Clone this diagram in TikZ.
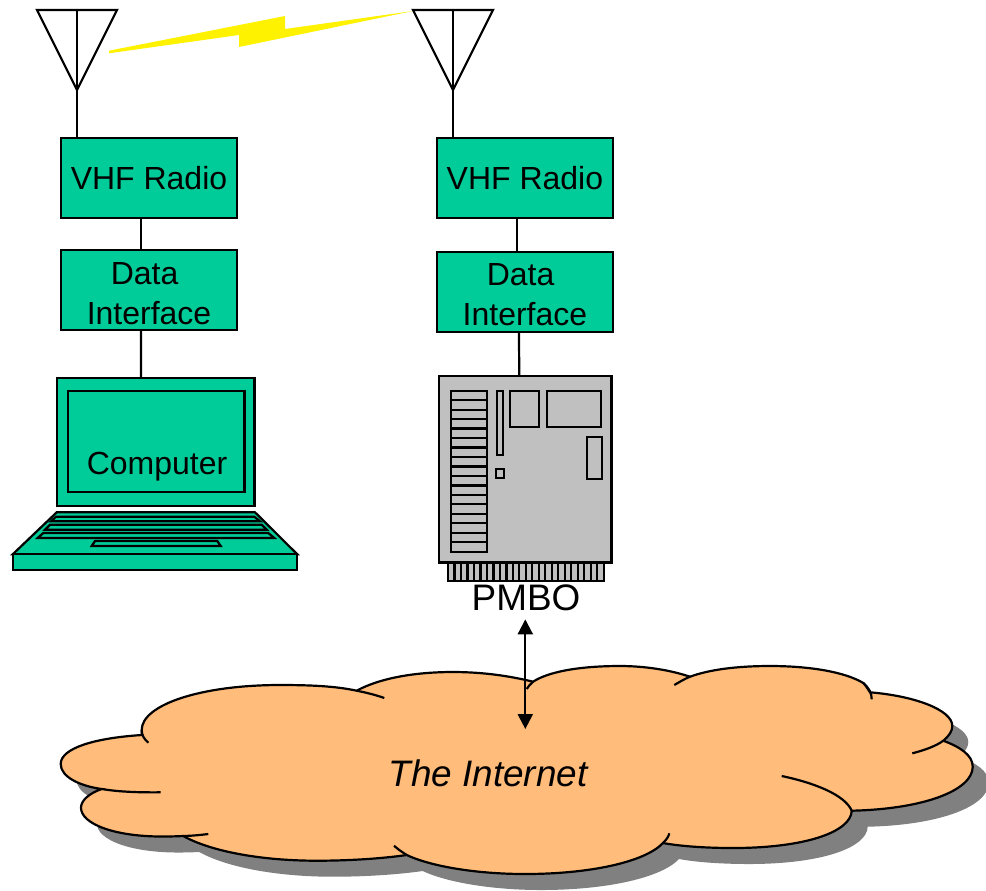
\documentclass[tikz,border=0pt]{standalone}
\usepackage{fontspec}
\setmainfont{Liberation Sans}
\usetikzlibrary{positioning,arrows.meta}
\definecolor{radiogreen}{HTML}{00CC99}
\definecolor{cloudorange}{HTML}{FFBC7A}
\definecolor{boardgrey}{HTML}{C0C0C0}
\definecolor{shadowgrey}{HTML}{808080}
\newcommand{\cloudoutline}{(141.7,735) .. controls (95,738) and (60.7,748) .. (60.7,764)
	.. controls (60.7,777) and (80,786) .. (101.7,789)
	.. controls (90,793) and (81,800) .. (81,807.7)
	.. controls (81,824) and (115,837) .. (165,836.5)
	.. controls (172,836.5) and (178,836.2) .. (183.3,836)
	.. controls (210,851) and (260,860.7) .. (316.7,860.7)
	.. controls (350,860.7) and (382,858.5) .. (406.7,855)
	.. controls (430,866) and (475,874) .. (525,874)
	.. controls (590,874) and (645,862) .. (663,843)
	.. controls (682,846.5) and (708,848) .. (733,848)
	.. controls (805,848) and (851,832) .. (851.7,810.7)
	.. controls (925,809) and (972.7,790) .. (972.7,766.7)
	.. controls (972.7,755) and (960,747) .. (943.3,740.7)
	.. controls (949,736) and (952.3,731) .. (952.3,726)
	.. controls (952.3,710) and (915,696) .. (870,692.3)
	.. controls (868,689) and (866,686) .. (863.3,683)
	.. controls (845,672) and (810,666) .. (770,666)
	.. controls (735,666) and (708,670) .. (690,676.7)
	.. controls (670,670) and (645,666) .. (620,666)
	.. controls (578,666) and (548,672) .. (533,681.7)
	.. controls (510,676) and (483,672) .. (453,672)
	.. controls (412,672) and (378,679) .. (356.7,690.7)
	.. controls (335,686) and (310,685) .. (280,685)
	.. controls (200,685) and (141.7,705) .. (141.7,730)
	-- cycle}

\tikzset{
	boxline/.style={line width=1.25pt,draw=black},
	radiobox/.style={boxline,fill=radiogreen,minimum width=3.52cm,minimum height=1.6cm,inner sep=0pt,align=center,font=\fontsize{18.2}{22.7}\selectfont},
	boardpart/.style={boxline,fill=boardgrey},
	laptoppart/.style={boxline,fill=radiogreen},
	link/.style={line width=1.25pt}
}

\begin{document}
\begin{tikzpicture}[x=.02cm,y=-.02cm,on grid,node distance=2.24cm,line join=miter,>={Triangle[length=8.5pt,width=8.5pt]}]
	\useasboundingbox (0,0) rectangle (986,890);

	\fill[yellow] (109,53.3) -- (239,35) -- (239,47) -- (413,11) -- (285,29) -- (285,16) -- (109,50.7) -- cycle;

	\node[radiobox] (radioA) at (149,178) {VHF Radio};
	\node[radiobox,below=of radioA] (dataA) {\rule{0pt}{16.5pt}Data\kern5pt\\Interface};
	\node[radiobox,right=7.52cm of radioA] (radioB) {VHF Radio};
	\node[radiobox,below=2.28cm of radioB] (dataB) {\rule{0pt}{16pt}Data\kern5pt\\Interface};

	\coordinate (antA) at (77,10);
	\coordinate (antB) at (453,10);
	\foreach \ant in {antA,antB} {
		\draw[link] ([xshift=-.8cm]\ant) -- ([xshift=.8cm]\ant) -- ([yshift=-1.6cm]\ant) -- cycle;
	}
	\draw[link] (antA) -- (antA |- radioA.north);
	\draw[link] (antB) -- (antB |- radioB.north);

	% laptop
	\node[laptoppart,minimum width=3.95cm,minimum height=2.56cm,inner sep=0pt] (laptop) at (155.8,442) {};
	\node[laptoppart,minimum width=3.53cm,minimum height=2.01cm,inner sep=0pt] (screen) at (156.2,441.5) {};
	\node[font=\fontsize{18.2}{20}\selectfont,inner sep=0pt] (computer) at (157,467) {Computer};
	\draw[laptoppart] (56.7,512.3) -- (255,512.3) -- (297.3,554.3) -- (12.7,554.3) -- cycle;
	\draw[laptoppart] (12.7,554.3) rectangle (297.3,570);
	\draw[laptoppart] (56,516.7) -- (254.3,516.7) -- (260,521.3) -- (51,521.3) -- cycle;
	\draw[laptoppart] (50,524.7) -- (261.7,524.7) -- (266.7,529.7) -- (45,529.7) -- cycle;
	\draw[laptoppart] (43.3,533) -- (268.3,533) -- (274.3,538) -- (37.7,538) -- cycle;
	\draw[laptoppart] (95,541) -- (217.3,541) -- (220.7,546) -- (91.7,546) -- cycle;

	% board
	\node[boardpart,minimum width=3.45cm,minimum height=3.73cm,inner sep=0pt] (board) at (525.3,469.3) {};
	\foreach \row in {0,...,16} {
		\draw[boardpart] (451,{390.7+\row*9.47}) rectangle (487,{390.7+(\row+1)*9.47});
	}
	\draw[boardpart] (497,390.7) rectangle (502.7,455.3);
	\draw[boardpart] (496,469.3) rectangle (504.3,477.7);
	\draw[boardpart] (510.3,390.7) rectangle (538.7,427.3);
	\draw[boardpart] (547.3,390.7) rectangle (601,427.3);
	\draw[boardpart] (587,437) rectangle (602.3,479);
	\draw[boardpart] (448,562.7) rectangle (603.7,580.7);
	\foreach \pin in {1,...,23} {
		\draw[link] ({448+\pin*6.49},562.7) -- ({448+\pin*6.49},580.7);
	}
	\node[font=\fontsize{21}{24}\selectfont,inner sep=0pt,minimum height=.84cm] (pmbo) at (526,598) {PMBO};

	\draw[link] ([xshift=-.16cm]radioA.south) -- ([xshift=-.16cm]dataA.north);
	\draw[link] ([xshift=-.16cm]dataA.south) -- ([xshift=-.296cm]laptop.north);
	\draw[link] ([xshift=-.16cm]radioB.south) -- ([xshift=-.16cm]dataB.north);
	\draw[link] ([xshift=-.12cm]dataB.south) -- ([xshift=-.12cm]board.north);

	% cloud
	\fill[shadowgrey,shift={(16,16)}] \cloudoutline;
	\draw[link,fill=cloudorange] \cloudoutline;
	\draw[link] (141.7,730) .. controls (141.7,735) and (144,739) .. (148.3,742.7);
	\draw[link] (101.7,789) .. controls (120,792) and (140,792.5) .. (160.7,792.3);
	\draw[link] (183.3,836) .. controls (192,835.8) and (200,835) .. (208.3,834);
	\draw[link] (394,845.7) .. controls (397,848.5) and (402,852) .. (406.7,855);
	\draw[link] (663,843) .. controls (666,840) and (668.5,837) .. (669.3,833.3);
	\draw[link] (781.7,776) .. controls (815,783) and (845,795) .. (851.7,810.7);
	\draw[link] (912.3,753.3) .. controls (925,750) and (936,746) .. (943.3,740.7);
	\draw[link] (863.3,683) .. controls (869,688) and (871.7,693) .. (871.7,699.3);
	\draw[link] (674.3,685) .. controls (678,683) and (684,679) .. (690,676.7);
	\draw[link] (526.7,689) .. controls (528,686.5) and (530.5,684) .. (533,681.7);
	\draw[link] (356.7,690.7) .. controls (366,692.5) and (376,695) .. (384.3,698);
	\node[font=\fontsize{21}{24}\itshape\selectfont,inner sep=0pt] (inet) at (488,773) {The Internet};

	\coordinate (inetport) at (525.3,729);
	\draw[link,<->] (pmbo.south -| inetport) -- (inetport);
\end{tikzpicture}
\end{document}
